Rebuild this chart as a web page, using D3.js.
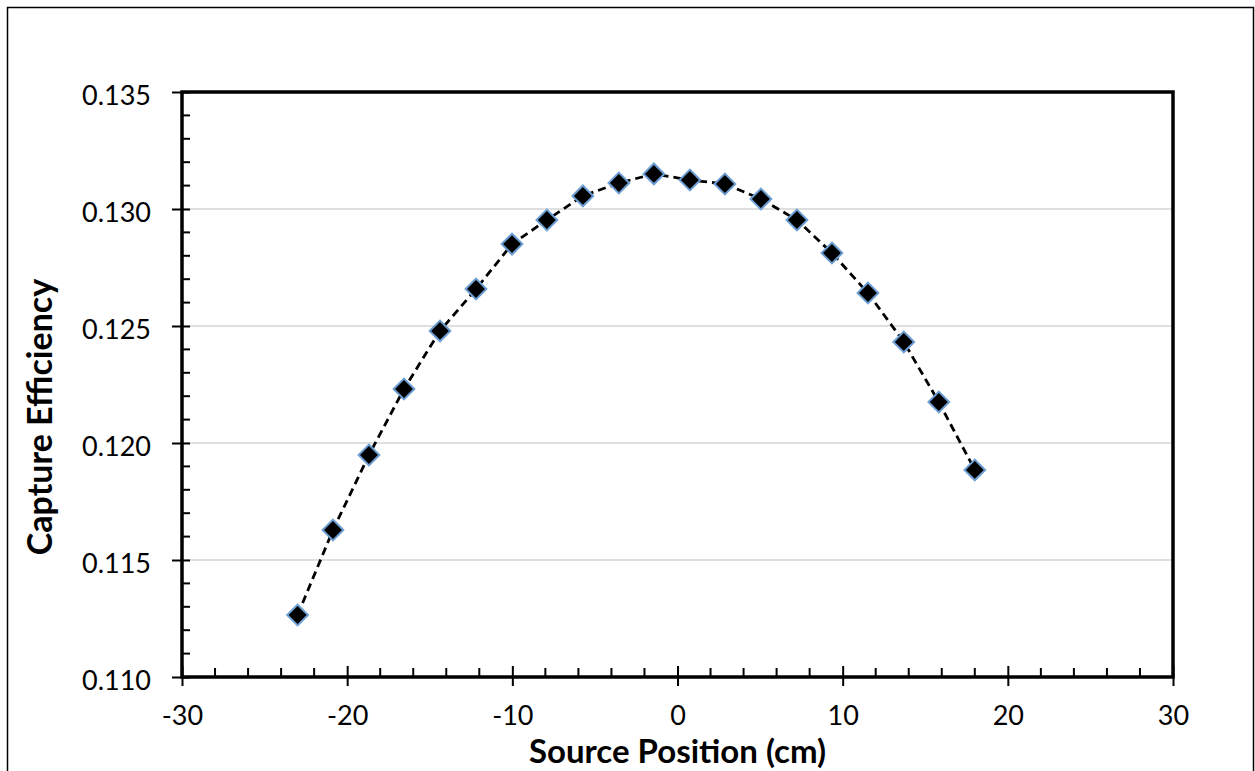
<!DOCTYPE html>
<html>
<head>
<meta charset="utf-8">
<script src="https://cdn.jsdelivr.net/npm/d3@7"></script>
<style>
  body { margin: 0; background: #fff; }
  svg text { font-family: Lato, "Open Sans", sans-serif; fill: #000; }
</style>
</head>
<body>
<div id="chart"></div>
<script>
var positions = [-23, -20.86, -18.68, -16.56, -14.38, -12.2, -10.02, -7.91, -5.73, -3.55,
    -1.43, 0.75, 2.87, 5.05, 7.23, 9.35, 11.53, 13.7, 15.82, 18.0];
var efficiencies = [0.11265, 0.11628, 0.11949, 0.12231, 0.12479, 0.12658, 0.1285, 0.12953, 0.13056, 0.13111,
    0.1315, 0.13124, 0.13107, 0.13043, 0.12953, 0.12812, 0.12641, 0.12432, 0.12175, 0.11885];
var xTicks = [-30, -20, -10, 0, 10, 20, 30];
var yTicks = [0.110, 0.115, 0.120, 0.125, 0.130, 0.135];

var width = 1255;
var height = 771;
var plotLeft = 182, plotRight = 1173, plotTop = 92, plotBottom = 677;

var points = positions.map(function (p, i) {
    return { x: p, y: efficiencies[i] };
});

var xScale = d3.scaleLinear()
    .domain([-30, 30])
    .range([plotLeft, plotRight]);

var yScale = d3.scaleLinear()
    .domain([0.110, 0.135])
    .range([plotBottom, plotTop]);

var svg = d3.select('#chart')
    .append('svg')
    .attr('width', width)
    .attr('height', height);

// outer frame of the figure
svg.append('rect')
    .attr('x', 7.5)
    .attr('y', 7.5)
    .attr('width', 1246)
    .attr('height', 780)
    .attr('fill', 'none')
    .attr('stroke', '#000')
    .attr('stroke-width', 1.5);

// gridlines
svg.selectAll('line.grid')
    .data(yTicks.slice(1, -1))
    .enter()
    .append('line')
    .attr('class', 'grid')
    .attr('x1', plotLeft)
    .attr('x2', plotRight)
    .attr('y1', function (d) { return yScale(d); })
    .attr('y2', function (d) { return yScale(d); })
    .attr('stroke', '#d4d4d4')
    .attr('stroke-width', 1.5);

// minor ticks (inside)
var xMinor = d3.range(-28, 30, 2).filter(function (d) { return d % 10 !== 0; });
var yMinor = d3.range(111, 135).filter(function (d) { return d % 5 !== 0; }).map(function (d) { return d / 1000; });

svg.selectAll('line.xminor')
    .data(xMinor)
    .enter()
    .append('line')
    .attr('x1', function (d) { return xScale(d); })
    .attr('x2', function (d) { return xScale(d); })
    .attr('y1', plotBottom)
    .attr('y2', plotBottom - 9)
    .attr('stroke', '#000')
    .attr('stroke-width', 2);

svg.selectAll('line.yminor')
    .data(yMinor)
    .enter()
    .append('line')
    .attr('x1', plotLeft)
    .attr('x2', plotLeft + 8)
    .attr('y1', function (d) { return yScale(d); })
    .attr('y2', function (d) { return yScale(d); })
    .attr('stroke', '#000')
    .attr('stroke-width', 2);

// major axes
var xAxis = d3.axisBottom(xScale)
    .tickValues(xTicks)
    .tickSizeInner(9)
    .tickSizeOuter(0)
    .tickPadding(20)
    .tickFormat(d3.format('d'));

var gx = svg.append('g')
    .attr('transform', 'translate(0,' + plotBottom + ')')
    .call(xAxis);
gx.select('.domain').remove();
gx.selectAll('.tick line')
    .attr('y1', -11)
    .attr('stroke-width', 2);
gx.selectAll('.tick text')
    .style('font-size', '27px')
    .text(function (d) { return d < 0 ? '-' + Math.abs(d) : d; });

var yAxis = d3.axisLeft(yScale)
    .tickValues(yTicks)
    .tickSizeInner(10)
    .tickSizeOuter(0)
    .tickPadding(21)
    .tickFormat(d3.format('.3f'));

var gy = svg.append('g')
    .attr('transform', 'translate(' + plotLeft + ',0)')
    .call(yAxis);
gy.select('.domain').remove();
gy.selectAll('.tick line')
    .attr('x1', 8)
    .attr('x2', -10)
    .attr('stroke-width', 2);
gy.selectAll('.tick text')
    .attr('dy', '0.48em')
    .style('font-size', '27px');

// plot frame
svg.append('rect')
    .attr('x', plotLeft)
    .attr('y', plotTop)
    .attr('width', plotRight - plotLeft)
    .attr('height', plotBottom - plotTop)
    .attr('fill', 'none')
    .attr('stroke', '#000')
    .attr('stroke-width', 3.5);

// dashed line
var line = d3.line()
    .x(function (d) { return xScale(d.x); })
    .y(function (d) { return yScale(d.y); });

svg.append('path')
    .datum(points)
    .attr('d', line)
    .attr('fill', 'none')
    .attr('stroke', '#000')
    .attr('stroke-width', 2.8)
    .attr('stroke-dasharray', '8,5');

// diamond markers
svg.selectAll('path.marker')
    .data(points)
    .enter()
    .append('path')
    .attr('class', 'marker')
    .attr('d', d3.symbol().type(d3.symbolSquare).size(215))
    .attr('transform', function (d) {
        return 'translate(' + xScale(d.x) + ',' + yScale(d.y) + ') rotate(45)';
    })
    .attr('fill', '#000')
    .attr('stroke', '#6c9ed3')
    .attr('stroke-width', 2);

// axis titles
svg.append('text')
    .attr('x', (plotLeft + plotRight) / 2)
    .attr('y', 763)
    .style('text-anchor', 'middle')
    .style('font-size', '33px')
    .style('font-weight', 'bold')
    .text('Source Position (cm)');

svg.append('text')
    .attr('transform', 'rotate(-90)')
    .attr('x', -417)
    .attr('y', 52)
    .style('text-anchor', 'middle')
    .style('font-size', '34px')
    .style('font-weight', 'bold')
    .text('Capture Efficiency');
</script>
</body>
</html>
